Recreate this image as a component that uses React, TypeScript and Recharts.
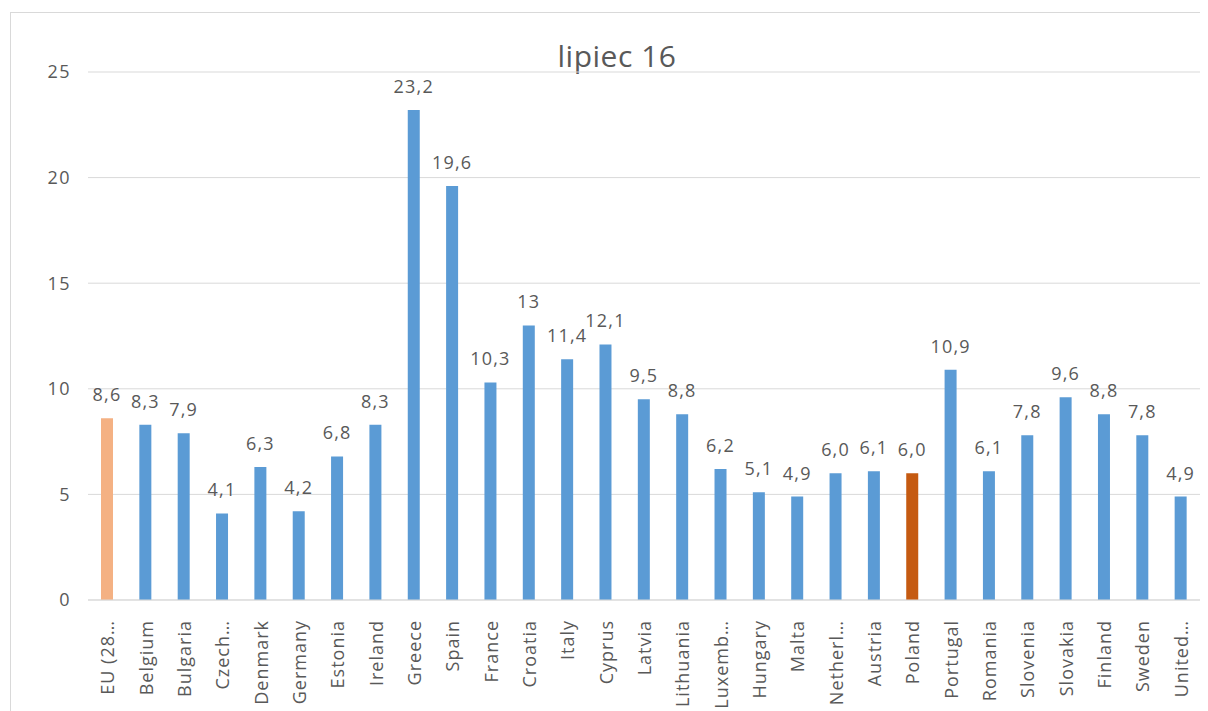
import React from "react";
import { BarChart, Bar, XAxis, YAxis, CartesianGrid, Cell, LabelList } from "recharts";

const categories = [
  "EU (28…", "Belgium", "Bulgaria", "Czech…", "Denmark", "Germany", "Estonia", "Ireland",
  "Greece", "Spain", "France", "Croatia", "Italy", "Cyprus", "Latvia", "Lithuania",
  "Luxemb…", "Hungary", "Malta", "Netherl…", "Austria", "Poland", "Portugal", "Romania",
  "Slovenia", "Slovakia", "Finland", "Sweden", "United…",
];
const values = [
  8.6, 8.3, 7.9, 4.1, 6.3, 4.2, 6.8, 8.3,
  23.2, 19.6, 10.3, 13, 11.4, 12.1, 9.5, 8.8,
  6.2, 5.1, 4.9, 6.0, 6.1, 6.0, 10.9, 6.1,
  7.8, 9.6, 8.8, 7.8, 4.9,
];
const valueLabels = [
  "8,6", "8,3", "7,9", "4,1", "6,3", "4,2", "6,8", "8,3",
  "23,2", "19,6", "10,3", "13", "11,4", "12,1", "9,5", "8,8",
  "6,2", "5,1", "4,9", "6,0", "6,1", "6,0", "10,9", "6,1",
  "7,8", "9,6", "8,8", "7,8", "4,9",
];
const yTicks = [0, 5, 10, 15, 20, 25];
const title = "lipiec 16";

const BLUE = "#5B9BD5";
const EU_COLOR = "#F4B183";
const PL_COLOR = "#C55A11";

const data = categories.map((c, i) => ({ name: c, value: values[i], label: valueLabels[i] }));

const FONT = "'Open Sans', sans-serif";

const XTick = (props: any) => {
  const { x, y, payload } = props;
  return (
    <text
      x={0}
      y={0}
      transform={`translate(${x},${y + 12}) rotate(-90)`}
      textAnchor="end"
      dominantBaseline="central"
      fill="#595959"
      fontSize={18}
      letterSpacing={1}
      fontFamily={FONT}
    >
      {payload.value}
    </text>
  );
};

export default function App() {
  return (
    <div
      style={{
        position: "relative",
        marginLeft: 2,
        marginTop: 4,
        width: 1210,
        height: 720,
        border: "1px solid #d9d9d9",
        boxSizing: "border-box",
        background: "#fff",
      }}
    >
      <div
        style={{
          position: "absolute",
          left: 0,
          width: 1212,
          top: 22,
          textAlign: "center",
          fontFamily: FONT,
          fontSize: 30,
          letterSpacing: 0.5,
          color: "#595959",
        }}
      >
        {title}
      </div>
      <BarChart
        width={1200}
        height={710}
        data={data}
        margin={{ top: 59, right: 11, bottom: 0, left: 0 }}
      >
        <CartesianGrid vertical={false} stroke="#d9d9d9" />
        <XAxis
          dataKey="name"
          interval={0}
          height={123}
          tickLine={false}
          axisLine={{ stroke: "#d9d9d9" }}
          tick={<XTick />}
        />
        <YAxis
          width={77}
          domain={[0, 25]}
          ticks={yTicks}
          axisLine={false}
          tickLine={false}
          tickMargin={11}
          tick={{ fill: "#595959", fontSize: 18, fontFamily: FONT, letterSpacing: 1.5 }}
        />
        <Bar dataKey="value" barSize={12} isAnimationActive={false}>
          {data.map((d, i) => (
            <Cell
              key={i}
              fill={d.name === "Poland" ? PL_COLOR : i === 0 ? EU_COLOR : BLUE}
            />
          ))}
          <LabelList
            dataKey="label"
            position="top"
            offset={17}
            fill="#595959"
            fontSize={18}
            letterSpacing={1.2}
            fontFamily={FONT}
          />
        </Bar>
      </BarChart>
    </div>
  );
}
